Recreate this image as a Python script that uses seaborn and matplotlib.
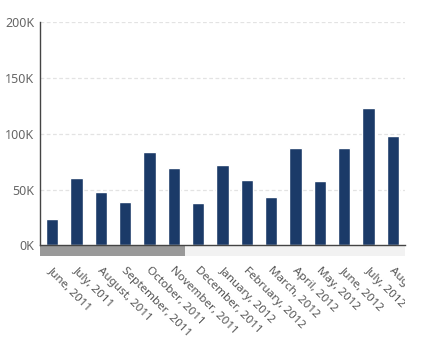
import matplotlib
matplotlib.use("Agg")
import matplotlib.pyplot as plt
from matplotlib.patches import Rectangle
from matplotlib.transforms import Bbox, ScaledTranslation
from matplotlib.ticker import FuncFormatter
import seaborn as sns
import pandas as pd

# Monthly totals
months = ["June, 2011", "July, 2011", "August, 2011", "September, 2011",
          "October, 2011", "November, 2011", "December, 2011", "January, 2012",
          "February, 2012", "March, 2012", "April, 2012", "May, 2012",
          "June, 2012", "July, 2012", "August, 2012"]
values = [24000, 60000, 48000, 39000, 84000, 69000, 38000, 72000,
          59000, 43000, 87000, 58000, 87000, 123000, 98000]
y_ticks = [0, 50000, 100000, 150000, 200000]

sns.set_theme(style="white")
plt.rcParams["font.family"] = ["Noto Sans", "DejaVu Sans"]

df = pd.DataFrame({"month": months, "value": values})

W, H = 430, 345
fig = plt.figure(figsize=(W / 100, H / 100), dpi=100)
left_px, right_px, top_px, bottom_px = 40, 405, 22.3, 245.3
ax = fig.add_axes([left_px / W, 1 - bottom_px / H,
                   (right_px - left_px) / W, (bottom_px - top_px) / H])

sns.barplot(data=df, x="month", y="value", color="#1b3a68", width=0.5,
            saturation=1, ax=ax, zorder=3)

ax.set_xlim(-0.5, len(months) - 0.5)
ax.set_ylim(0, 200000)
ax.set_yticks(y_ticks)
ax.yaxis.set_major_formatter(FuncFormatter(lambda v, p: f"{int(v / 1000)}K"))
ax.set_xlabel("")
ax.set_ylabel("")

# dashed horizontal grid
for t in y_ticks[1:]:
    ax.axhline(t, color="#e3e3e3", lw=0.9, ls=(0, (3, 2)), zorder=1)

for side in ("top", "right"):
    ax.spines[side].set_visible(False)
ax.spines["left"].set_color("#444444")
ax.spines["left"].set_linewidth(1.0)
ax.spines["bottom"].set_color("#444444")
ax.spines["bottom"].set_linewidth(1.0)
ax.spines["bottom"].set_zorder(5)

ax.tick_params(axis="y", length=0, pad=4, labelsize=9, labelcolor="#666666")
ax.tick_params(axis="x", length=0, pad=14, labelsize=8.4, labelcolor="#555555")

# horizontal scrollbar beneath the category axis
track_h = 10.5 / (bottom_px - top_px)
ax.add_patch(Rectangle((0, -track_h), 1, track_h, transform=ax.transAxes,
                       facecolor="#f2f2f2", edgecolor="none", clip_on=False, zorder=2))
ax.add_patch(Rectangle((0, -track_h), 145 / 365, track_h, transform=ax.transAxes,
                       facecolor="#999999", edgecolor="none", clip_on=False, zorder=2))

# rotated month labels, clipped at the plot's right edge
clip = Bbox.from_extents(0, 0, right_px, H)
shift = ScaledTranslation(2 / 100, 0, fig.dpi_scale_trans)
for lab in ax.get_xticklabels():
    lab.set_rotation(-45)
    lab.set_ha("left")
    lab.set_va("top")
    lab.set_rotation_mode("anchor")
    lab.set_clip_on(True)
    lab.set_clip_box(clip)
    lab.set_transform(lab.get_transform() + shift)

fig.savefig("out.png", dpi=100)
